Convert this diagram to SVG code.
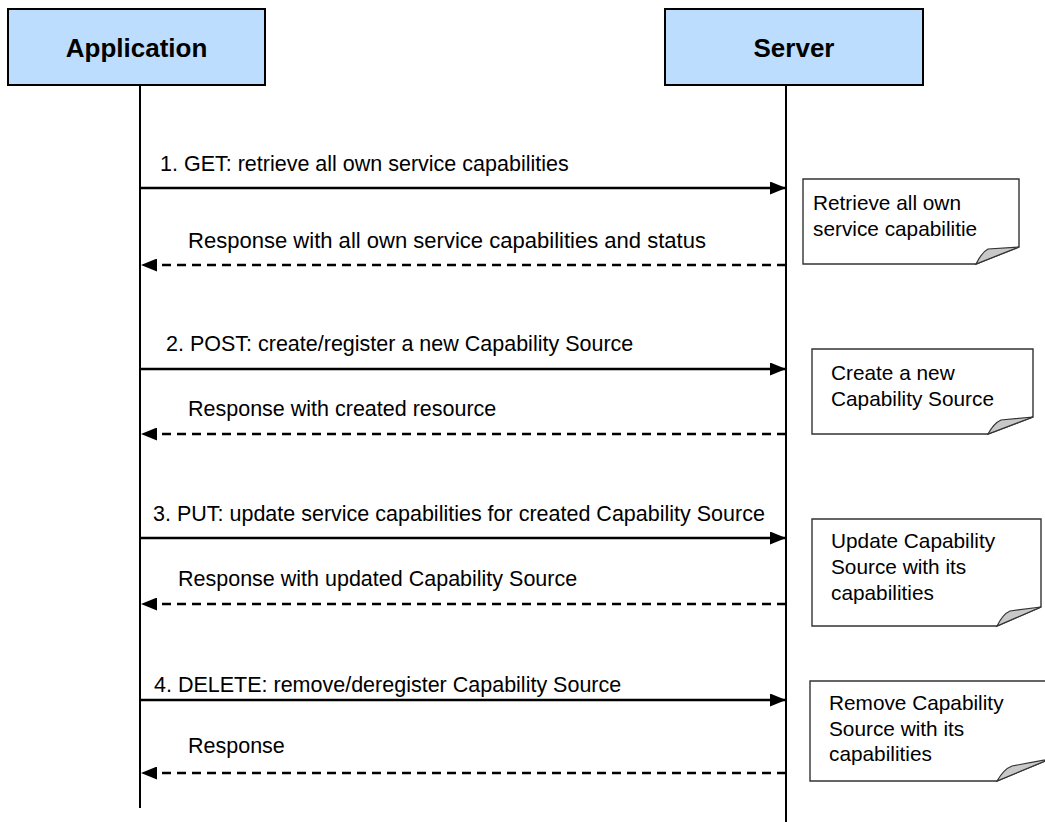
<svg xmlns="http://www.w3.org/2000/svg" width="1045" height="822" viewBox="0 0 1045 822">
<style>
.hdr{fill:#BCDDFD;stroke:#000;stroke-width:2}
.htxt{font-family:"Liberation Sans",Arial,sans-serif;font-weight:bold;font-size:26px;text-anchor:middle;fill:#000}
.life{stroke:#000;stroke-width:2;fill:none}
.msg{stroke:#000;stroke-width:2.5;fill:none;marker-end:url(#ah)}
.rsp{stroke:#000;stroke-width:2.5;fill:none;stroke-dasharray:9 6;marker-end:url(#ah)}
.lbl{font-family:"Liberation Sans",Arial,sans-serif;font-size:21.5px;fill:#000}
.note{fill:#fff;stroke:#333;stroke-width:1.4}
.fold{fill:#C8C8C8;stroke:#333;stroke-width:1.2}
.ntxt{font-family:"Liberation Sans",Arial,sans-serif;font-size:20.8px;fill:#000}
</style>
<defs>
<marker id="ah" viewBox="0 0 16 13" refX="16" refY="6.5" markerWidth="16" markerHeight="13" orient="auto" markerUnits="userSpaceOnUse">
<path d="M0,0 L16,6.5 L0,13 Z" fill="#000"/>
</marker>
</defs>
<rect width="1045" height="822" fill="#fff"/>
<g id="application">
<rect class="hdr" x="8" y="9" width="257" height="76"/>
<text class="htxt" x="136.5" y="57">Application</text>
<line class="life" x1="140" y1="85" x2="140" y2="808"/>
</g>
<g id="server">
<rect class="hdr" x="665" y="9" width="258" height="76"/>
<text class="htxt" x="794" y="57">Server</text>
<line class="life" x1="786" y1="85" x2="786" y2="822"/>
</g>
<g id="connectors">
<line class="msg" x1="140" y1="188" x2="786" y2="188"/>
<text class="lbl" x="160" y="171">1. GET: retrieve all own service capabilities</text>
<line class="rsp" x1="786" y1="265" x2="141" y2="265"/>
<text class="lbl" x="188" y="248" textLength="518" lengthAdjust="spacingAndGlyphs">Response with all own service capabilities and status</text>
<line class="msg" x1="140" y1="369" x2="786" y2="369"/>
<text class="lbl" x="166" y="351">2. POST: create/register a new Capability Source</text>
<line class="rsp" x1="786" y1="434" x2="141" y2="434"/>
<text class="lbl" x="188" y="416">Response with created resource</text>
<line class="msg" x1="140" y1="538" x2="786" y2="538"/>
<text class="lbl" x="153" y="521">3. PUT: update service capabilities for created Capability Source</text>
<line class="rsp" x1="786" y1="604" x2="141" y2="604"/>
<text class="lbl" x="178" y="586">Response with updated Capability Source</text>
<line class="msg" x1="140" y1="700" x2="786" y2="700"/>
<text class="lbl" x="154" y="692">4. DELETE: remove/deregister Capability Source</text>
<line class="rsp" x1="786" y1="773" x2="141" y2="773"/>
<text class="lbl" x="188" y="753">Response</text>
</g>
<g id="note1">
<path class="note" d="M803,179 H1019 V247 L976,264 H803 Z"/>
<path class="fold" d="M976,264 Q982,252 988,249 L1019,247 Z"/>
<text class="ntxt" x="813" y="210">Retrieve all own</text>
<text class="ntxt" x="813" y="236">service capabilitie</text>
</g>
<g id="note2">
<path class="note" d="M812,349 H1033 V417 L988,434 H812 Z"/>
<path class="fold" d="M988,434 Q994,423 1001,420 L1033,417 Z"/>
<text class="ntxt" x="831" y="380">Create a new</text>
<text class="ntxt" x="831" y="406">Capability Source</text>
</g>
<g id="note3">
<path class="note" d="M812,519 H1041 V607 L997,626 H812 Z"/>
<path class="fold" d="M997,626 Q1003,614 1010,611 L1041,607 Z"/>
<text class="ntxt" x="831" y="548">Update Capability</text>
<text class="ntxt" x="831" y="574">Source with its</text>
<text class="ntxt" x="831" y="600">capabilities</text>
</g>
<g id="note4">
<path class="note" d="M810,681 H1050 V759 L997,781 H810 Z"/>
<path class="fold" d="M997,781 Q1004,769 1012,766 L1050,759 Z"/>
<text class="ntxt" x="829" y="710">Remove Capability</text>
<text class="ntxt" x="829" y="736">Source with its</text>
<text class="ntxt" x="829" y="761">capabilities</text>
</g>
</svg>
